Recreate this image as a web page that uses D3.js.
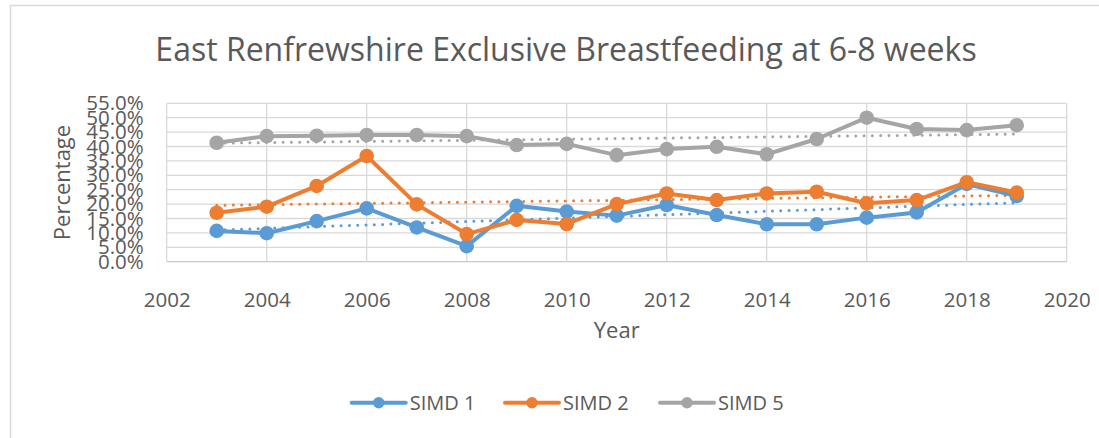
<!DOCTYPE html>
<html>
<head>
<meta charset="utf-8">
<script src="https://cdn.jsdelivr.net/npm/d3@7"></script>
<style>
  body { margin: 0; background: #fff; }
  text { font-family: "Open Sans", sans-serif; fill: #595959; }
</style>
</head>
<body>
<div id="chart"></div>
<script>
//Chart Data
const years = [2003, 2004, 2005, 2006, 2007, 2008, 2009, 2010, 2011, 2012, 2013, 2014, 2015, 2016, 2017, 2018, 2019];
const simd1 = [10.7, 9.9, 14.1, 18.5, 11.9, 5.4, 19.4, 17.4, 16.0, 19.7, 16.2, 13.0, 13.0, 15.3, 17.1, 27.0, 22.8];
const simd2 = [17.0, 19.1, 26.3, 36.7, 19.9, 9.6, 14.5, 13.1, 20.0, 23.7, 21.4, 23.7, 24.3, 20.3, 21.4, 27.6, 24.0];
const simd5 = [41.3, 43.6, 43.75, 44.0, 44.0, 43.6, 40.5, 40.9, 37.0, 39.1, 39.9, 37.3, 42.6, 50.0, 46.1, 45.7, 47.4];
const seriesNames = ["SIMD 1", "SIMD 2", "SIMD 5"];
const xTicks = [2002, 2004, 2006, 2008, 2010, 2012, 2014, 2016, 2018, 2020];
const yTicks = [0, 5, 10, 15, 20, 25, 30, 35, 40, 45, 50, 55];

//Chart Variables and Constants
const width = 1099;
const height = 438;
const plot = { left: 166.7, right: 1066.7, top: 103.3, bottom: 261.7 };
const colors = ["#5B9BD5", "#ED7D31", "#A5A5A5"];
const chartTitle = "East Renfrewshire Exclusive Breastfeeding at 6-8 weeks";

const series = [simd1, simd2, simd5].map((vals, i) => ({
  name: seriesNames[i],
  color: colors[i],
  points: years.map((y, j) => ({ year: y, value: vals[j] })),
}));

//Scales
const x = d3.scaleLinear().domain([2002, 2020]).range([plot.left, plot.right]);
const y = d3.scaleLinear().domain([0, 55]).range([plot.bottom, plot.top]);

const svg = d3
  .select("#chart")
  .append("svg")
  .attr("width", width)
  .attr("height", height);

//Chart border
svg
  .append("rect")
  .attr("x", 10.5)
  .attr("y", 5.5)
  .attr("width", width + 10)
  .attr("height", height + 10)
  .attr("fill", "#fff")
  .attr("stroke", "#d9d9d9")
  .attr("stroke-width", 1.5);

//Title
svg
  .append("text")
  .attr("x", 566)
  .attr("y", 61)
  .attr("text-anchor", "middle")
  .attr("font-size", "32px")
  .text(chartTitle);

//Gridlines
const grid = svg.append("g");
grid
  .selectAll(".hgrid")
  .data(yTicks)
  .enter()
  .append("line")
  .attr("x1", plot.left)
  .attr("x2", plot.right)
  .attr("y1", (d) => y(d))
  .attr("y2", (d) => y(d))
  .attr("stroke", (d) => (d === 0 ? "#c8c8c8" : "#d9d9d9"))
  .attr("stroke-width", 1.3);

grid
  .selectAll(".vgrid")
  .data(xTicks)
  .enter()
  .append("line")
  .attr("x1", (d) => x(d))
  .attr("x2", (d) => x(d))
  .attr("y1", plot.top)
  .attr("y2", plot.bottom)
  .attr("stroke", "#d9d9d9")
  .attr("stroke-width", 1.3);

//Axes
const xAxis = svg
  .append("g")
  .attr("transform", `translate(0, ${plot.bottom})`)
  .call(d3.axisBottom(x).tickValues(xTicks).tickFormat(d3.format("d")).tickSize(0).tickPadding(31));
xAxis.select(".domain").remove();
xAxis.selectAll("text").attr("font-size", "20.5px").attr("fill", "#595959").attr("font-family", null);

const yAxis = svg
  .append("g")
  .attr("transform", `translate(${plot.left}, 0)`)
  .call(d3.axisLeft(y).tickValues(yTicks).tickFormat((d) => `${d.toFixed(1)}%`).tickSize(0).tickPadding(23));
yAxis.select(".domain").remove();
yAxis.selectAll("text").attr("font-size", "20.5px").attr("fill", "#595959").attr("font-family", null);

//Axis Titles
svg
  .append("text")
  .attr("x", (plot.left + plot.right) / 2)
  .attr("y", 338)
  .attr("text-anchor", "middle")
  .attr("font-size", "22px")
  .text("Year");

svg
  .append("text")
  .attr("transform", `translate(70, ${(plot.top + plot.bottom) / 2}) rotate(-90)`)
  .attr("text-anchor", "middle")
  .attr("font-size", "22px")
  .text("Percentage");

//Linear trendlines from the data
function trend(points) {
  const mx = d3.mean(points, (d) => d.year);
  const my = d3.mean(points, (d) => d.value);
  const sxy = d3.sum(points, (d) => (d.year - mx) * (d.value - my));
  const sxx = d3.sum(points, (d) => (d.year - mx) ** 2);
  const b = sxy / sxx;
  const a = my - b * mx;
  const x0 = d3.min(points, (d) => d.year);
  const x1 = d3.max(points, (d) => d.year);
  return [
    { year: x0, value: a + b * x0 },
    { year: x1, value: a + b * x1 },
  ];
}

const line = d3
  .line()
  .x((d) => x(d.year))
  .y((d) => y(d.value));

svg
  .append("g")
  .selectAll("path")
  .data(series)
  .enter()
  .append("path")
  .attr("d", (d) => line(trend(d.points)))
  .attr("fill", "none")
  .attr("stroke", (d) => d.color)
  .attr("stroke-width", 3)
  .attr("stroke-linecap", "round")
  .attr("stroke-dasharray", "0,8.3");

//Series lines and markers
const seriesGroups = svg
  .append("g")
  .selectAll("g")
  .data(series)
  .enter()
  .append("g");

seriesGroups
  .append("path")
  .attr("d", (d) => line(d.points))
  .attr("fill", "none")
  .attr("stroke", (d) => d.color)
  .attr("stroke-width", 4)
  .attr("stroke-linejoin", "round");

seriesGroups
  .selectAll("circle")
  .data((d) => d.points.map((p) => ({ ...p, color: d.color })))
  .enter()
  .append("circle")
  .attr("cx", (d) => x(d.year))
  .attr("cy", (d) => y(d.value))
  .attr("r", 7.3)
  .attr("fill", (d) => d.color);

//Legend
const legendX = [351.7, 505, 660];
const legendY = 402.7;
const legend = svg
  .append("g")
  .selectAll("g")
  .data(series)
  .enter()
  .append("g")
  .attr("transform", (d, i) => `translate(${legendX[i]}, ${legendY})`);

legend
  .append("line")
  .attr("x1", 0)
  .attr("x2", 54)
  .attr("stroke", (d) => d.color)
  .attr("stroke-width", 4)
  .attr("stroke-linecap", "round");

legend
  .append("circle")
  .attr("cx", 27)
  .attr("r", 5.7)
  .attr("fill", (d) => d.color);

legend
  .append("text")
  .attr("x", 58)
  .attr("y", 7)
  .attr("font-size", "20px")
  .text((d) => d.name);
</script>
</body>
</html>
